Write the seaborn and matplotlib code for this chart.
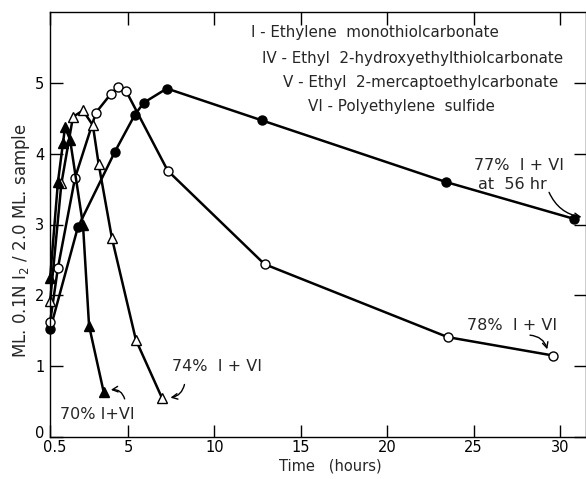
import matplotlib
matplotlib.use("Agg")
import matplotlib.pyplot as plt
import matplotlib.transforms as mtransforms
import seaborn as sns
import pandas as pd

# ---- data ----
fc_x = [0.5, 2.1, 4.25, 5.4, 5.92, 7.25, 12.75, 23.4, 30.8]
fc_y = [1.52, 2.96, 4.03, 4.55, 4.72, 4.92, 4.47, 3.60, 3.08]

oc_x = [0.5, 0.95, 1.94, 3.15, 4.0, 4.42, 4.88, 7.3, 12.9, 23.5, 29.6]
oc_y = [1.63, 2.39, 3.66, 4.58, 4.84, 4.94, 4.89, 3.76, 2.44, 1.41, 1.15]

ot_x = [0.5, 1.15, 1.82, 2.4, 2.97, 3.3, 4.07, 5.46, 6.97]
ot_y = [1.92, 3.58, 4.52, 4.61, 4.40, 3.86, 2.81, 1.37, 0.55]

ft_x = [0.5, 0.95, 1.24, 1.36, 1.65, 2.4, 2.75, 3.6]
ft_y = [2.25, 3.60, 4.15, 4.37, 4.20, 2.99, 1.57, 0.63]

xtick_vals = [0.5, 5, 10, 15, 20, 25, 30]
xtick_labels = ["0.5", "5", "10", "15", "20", "25", "30"]
ytick_vals = [0, 1, 2, 3, 4, 5]

legend_lines = [
    "I - Ethylene  monothiolcarbonate",
    "IV - Ethyl  2-hydroxyethylthiolcarbonate",
    "V - Ethyl  2-mercaptoethylcarbonate",
    "VI - Polyethylene  sulfide",
]

sns.set_style("ticks")
plt.rcParams["font.family"] = ["DejaVu Sans"]

fig = plt.figure(figsize=(5.86, 4.79), dpi=100)
ax = fig.add_axes([50/586, 1-437/479, 536/586, 425/479])

series = [
    (fc_x, fc_y, "o", "black"),
    (oc_x, oc_y, "o", "white"),
    (ot_x, ot_y, "^", "white"),
    (ft_x, ft_y, "^", "black"),
]
for xs, ys, mk, fcol in series:
    df = pd.DataFrame({"t": xs, "v": ys})
    sns.lineplot(data=df, x="t", y="v", ax=ax, color="black", linewidth=1.8,
                 marker=mk, markersize=6.5, markerfacecolor=fcol,
                 markeredgecolor="black", markeredgewidth=1.0, sort=False,
                 estimator=None, clip_on=False)

ax.set_xlim(0.49, 31.5)
ax.set_ylim(0, 6)
ax.set_xticks(xtick_vals)
ax.set_xticklabels(xtick_labels)
ax.set_yticks(ytick_vals)
ax.set_xlabel("")
ax.set_ylabel("")
ax.tick_params(direction="in", length=9, width=1, top=True, right=True,
               labelsize=10.5, colors="black", pad=4)
ax.tick_params(axis="x", pad=2.5)
for s in ax.spines.values():
    s.set_color("black")
    s.set_linewidth(1.0)

# nudge first x tick label right and "0" y label up so they don't collide
lab0 = ax.get_xticklabels()[0]
lab0.set_transform(lab0.get_transform() + mtransforms.ScaledTranslation(5/100, 0, fig.dpi_scale_trans))
ylab0 = ax.get_yticklabels()[0]
ylab0.set_transform(ylab0.get_transform() + mtransforms.ScaledTranslation(0, 5/100, fig.dpi_scale_trans))

# compound list
lx = [12.1, 12.75, 13.95, 15.4]
ly = [5.71, 5.35, 5.00, 4.66]
for t, x, y in zip(legend_lines, lx, ly):
    ax.text(x, y, t, fontsize=10.9, va="center", ha="left")

# annotations
ax.text(25.0, 3.84, "77%  I + VI", fontsize=11.5, va="center")
ax.text(25.25, 3.56, "at  56 hr", fontsize=11.5, va="center")
ax.annotate("", xy=(31.4, 3.1), xytext=(29.3, 3.49),
            arrowprops=dict(arrowstyle="->", color="black", lw=1,
                            connectionstyle="arc3,rad=0.3"))
ax.text(24.6, 1.58, "78%  I + VI", fontsize=11.5, va="center")
ax.annotate("", xy=(29.3, 1.2), xytext=(28.1, 1.44),
            arrowprops=dict(arrowstyle="->", color="black", lw=1,
                            connectionstyle="arc3,rad=-0.4"))
ax.text(7.55, 0.99, "74%  I + VI", fontsize=11.5, va="center")
ax.annotate("", xy=(7.3, 0.55), xytext=(8.3, 0.78),
            arrowprops=dict(arrowstyle="->", color="black", lw=1,
                            connectionstyle="arc3,rad=-0.4"))
ax.text(1.06, 0.32, "70% I+VI", fontsize=11.5, va="center")
ax.annotate("", xy=(3.85, 0.66), xytext=(4.85, 0.5),
            arrowprops=dict(arrowstyle="->", color="black", lw=1,
                            connectionstyle="arc3,rad=0.5"))

fig.text(330/586, 1-466/479, "Time   (hours)", fontsize=10.5, ha="center", va="center")
fig.text(21/586, 1-241/479, "ML. 0.1N I$_2$ / 2.0 ML. sample", fontsize=12,
         rotation=90, ha="center", va="center")

fig.savefig("out.png", dpi=100)
